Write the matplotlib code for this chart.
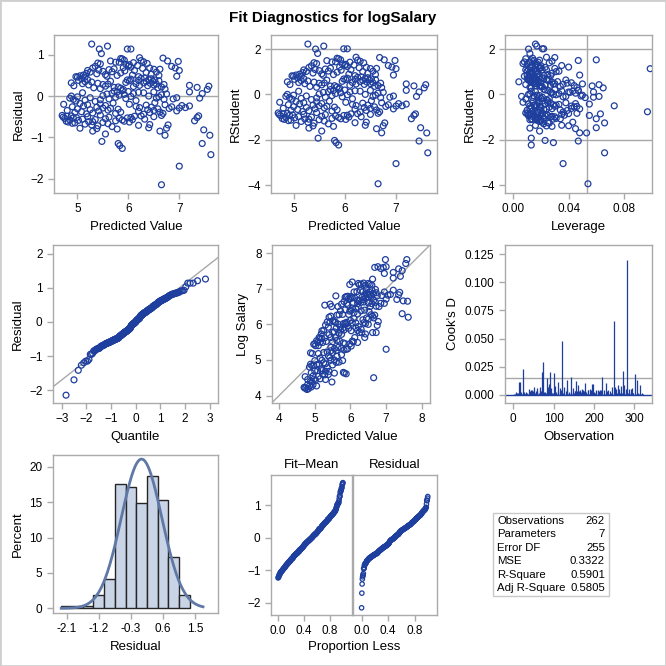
"""
Fit diagnostics panel for the logSalary regression: residual and RStudent
plots, leverage, Q-Q plot, observed vs predicted, Cook's D, residual
histogram, residual-fit spread plot and a small table of fit statistics.
"""

from statistics import NormalDist

import numpy as np
import matplotlib
matplotlib.use("Agg")
from matplotlib import pyplot as plt
from matplotlib.patches import Rectangle

# ---- values ----
# predicted value of each observation (grouped by residual band)
pred = [
    5.28, 5.59, 5.43, 5.98, 6.05,
    5.47, 6.68, 6.77, 6.98, 6.22, 6.25, 6.30, 5.85, 5.88, 5.92,
    5.65, 5.75, 5.95, 5.40, 5.45, 6.37, 6.10, 5.82, 6.02,
    4.97, 5.00, 5.05, 5.12, 5.18, 5.20, 5.25, 5.30, 5.35, 5.38,
    5.42, 5.50, 5.55, 5.58, 5.62, 5.68, 5.72, 5.78, 5.85, 5.90,
    5.93, 6.00, 6.05, 6.12, 6.18, 6.20, 6.28, 6.35, 6.42, 6.45,
    6.50, 6.55, 6.60, 6.85, 6.92, 6.95, 7.00, 6.62, 5.15, 6.08,
    4.88, 4.93, 5.02, 5.08, 5.10, 5.15, 5.20, 5.22, 5.28, 5.32,
    5.40, 5.45, 5.50, 5.55, 5.60, 5.65, 5.72, 5.80, 5.85, 5.90,
    5.95, 5.98, 6.02, 6.05, 6.10, 6.15, 6.20, 6.22, 6.25, 6.30,
    6.32, 6.35, 6.38, 6.40, 6.43, 6.45, 6.48, 6.50, 6.52, 6.55,
    6.58, 6.60, 6.65, 6.70, 6.72, 7.20, 7.35, 7.55, 7.58,
    4.85, 4.88, 4.92, 4.97, 5.00, 5.10, 5.15, 5.25, 5.35, 5.45,
    5.50, 5.58, 5.62, 5.68, 5.72, 5.75, 5.78, 5.82, 5.88, 5.92,
    5.95, 6.00, 6.05, 6.10, 6.15, 6.20, 6.30, 6.40, 6.50, 6.55,
    6.60, 6.65, 6.70, 6.88, 6.95, 7.20, 7.40, 7.45, 6.75,
    4.73, 4.80, 4.90, 4.95, 5.00, 5.05, 5.08, 5.12, 5.18, 5.20,
    5.25, 5.30, 5.38, 5.42, 5.45, 5.50, 5.55, 5.60, 5.65, 5.70,
    5.75, 5.80, 5.85, 6.15, 6.20, 6.22, 6.30, 6.35, 6.38, 6.42,
    6.45, 6.50, 6.52, 6.58, 6.62, 6.72, 6.80, 6.85, 7.00, 7.05,
    7.12, 7.20, 6.68, 6.95, 6.02,
    4.70, 4.72, 4.75, 4.78, 4.80, 4.82, 4.85, 4.88, 4.90, 4.92,
    4.95, 4.98, 5.02, 5.10, 5.15, 5.20, 5.22, 5.28, 5.35, 5.40,
    5.45, 5.50, 5.55, 5.60, 5.62, 5.75, 5.82, 5.88, 5.92, 5.98,
    6.02, 6.05, 6.08, 6.12, 6.25, 6.32, 6.42, 6.50, 6.65, 6.78,
    7.30, 7.38, 7.35, 5.30, 5.68, 6.20,
    5.05, 5.30, 5.38, 5.55, 5.78, 6.40, 6.62, 6.72, 6.75, 7.48, 7.60,
    5.48, 5.80, 5.83, 5.88, 7.45,
    7.62, 7.00, 6.65,
]

# raw residual of each observation
resid = [
    1.26, 1.21, 1.14, 1.14, 1.14,
    1.03, 0.92, 0.85, 0.84, 0.93, 0.86, 0.83, 0.91, 0.90, 0.87,
    0.85, 0.82, 0.77, 0.80, 0.78, 0.79, 0.81, 0.82, 0.76,
    0.47, 0.46, 0.49, 0.51, 0.55, 0.62, 0.58, 0.68, 0.72, 0.54,
    0.63, 0.60, 0.52, 0.48, 0.64, 0.59, 0.66, 0.50, 0.56, 0.69,
    0.61, 0.73, 0.70, 0.62, 0.74, 0.47, 0.67, 0.57, 0.68, 0.53,
    0.65, 0.58, 0.50, 0.72, 0.68, 0.48, 0.62, 0.65, 0.46, 0.51,
    0.32, 0.25, 0.38, 0.42, 0.30, 0.35, 0.40, 0.27, 0.34, 0.20,
    0.31, 0.18, 0.28, 0.24, 0.29, 0.36, 0.21, 0.22, 0.19, 0.16,
    0.33, 0.39, 0.37, 0.41, 0.23, 0.30, 0.38, 0.26, 0.43, 0.32,
    0.44, 0.35, 0.25, 0.40, 0.31, 0.42, 0.36, 0.27, 0.39, 0.29,
    0.20, 0.37, 0.22, 0.28, 0.17, 0.26, 0.21, 0.16, 0.24,
    -0.05, 0.00, -0.08, -0.12, -0.02, 0.08, -0.10, -0.04, -0.13, -0.09,
    0.01, 0.05, -0.07, 0.07, 0.12, -0.03, 0.10, 0.02, 0.13, 0.04,
    -0.06, 0.11, -0.01, 0.06, -0.11, 0.09, 0.08, 0.00, 0.10, -0.05,
    -0.02, 0.03, -0.08, -0.07, -0.04, 0.10, -0.05, 0.06, 0.05,
    -0.20, -0.35, -0.26, -0.40, -0.31, -0.18, -0.38, -0.24, -0.43, -0.21,
    -0.33, -0.41, -0.27, -0.36, -0.19, -0.29, -0.23, -0.34, -0.30, -0.17,
    -0.42, -0.32, -0.39, -0.25, -0.37, -0.28, -0.44, -0.22, -0.33, -0.40,
    -0.27, -0.35, -0.16, -0.31, -0.39, -0.21, -0.30, -0.26, -0.29, -0.23,
    -0.28, -0.24, -0.42, -0.36, -0.20,
    -0.47, -0.51, -0.54, -0.61, -0.49, -0.63, -0.58, -0.48, -0.66, -0.53,
    -0.65, -0.52, -0.59, -0.56, -0.68, -0.50, -0.62, -0.70, -0.57, -0.72,
    -0.46, -0.64, -0.55, -0.67, -0.51, -0.60, -0.54, -0.58, -0.61, -0.53,
    -0.63, -0.52, -0.57, -0.49, -0.48, -0.56, -0.69, -0.50, -0.47, -0.70,
    -0.60, -0.48, -0.52, -0.62, -0.74, -0.71,
    -0.78, -0.85, -0.79, -0.92, -0.80, -0.77, -0.85, -0.95, -0.78, -0.82, -0.95,
    -1.10, -1.15, -1.20, -1.27, -1.15,
    -1.42, -1.70, -2.15,
]

# leverage (hat diagonal) of each observation
lev = [
    .016, .017, .011, .022, .021,
    .012, .030, .060, .047, .024, .019, .028, .014, .009, .013,
    .015, .008, .017, .011, .007, .026, .018, .012, .010,
    .012, .015, .010, .018, .013, .009, .016, .012, .020, .014,
    .011, .017, .013, .022, .015, .010, .019, .014, .012, .016,
    .021, .013, .018, .024, .016, .027, .020, .031, .023, .028,
    .019, .033, .025, .035, .040, .048, .099, .030, .008, .017,
    .004, .009, .014, .011, .018, .012, .010, .016, .013, .020,
    .015, .012, .017, .023, .014, .011, .019, .016, .021, .013,
    .018, .015, .024, .012, .027, .020, .017, .029, .014, .032,
    .019, .025, .036, .016, .028, .021, .038, .030, .022, .042,
    .034, .026, .044, .039, .046, .050, .057, .065, .062,
    .006, .011, .014, .009, .017, .013, .020, .015, .024, .018,
    .012, .027, .021, .016, .030, .019, .025, .033, .022, .028,
    .036, .023, .031, .040, .026, .035, .043, .029, .047, .038,
    .050, .045, .052, .058, .049, .047, .062, .058, .041,
    .007, .012, .016, .010, .019, .014, .022, .011, .017, .025,
    .013, .020, .015, .028, .018, .012, .023, .016, .030, .021,
    .014, .026, .019, .033, .024, .017, .036, .027, .020, .039,
    .031, .042, .025, .044, .034, .038, .046, .029, .042, .045,
    .073, .055, .097, .048, .019,
    .009, .013, .011, .016, .010, .014, .018, .012, .020, .015,
    .017, .011, .022, .014, .019, .024, .013, .021, .016, .026,
    .018, .012, .028, .020, .015, .031, .023, .017, .034, .025,
    .019, .037, .027, .021, .040, .030, .043, .035, .046, .066,
    .060, .063, .055, .029, .022, .025,
    .016, .012, .024, .019, .028, .035, .045, .048, .040, .060, .053,
    .013, .023, .029, .013, .047,
    .066, .036, .054,
]

# observation number of each point (x of the Cook's D needles)
obs = [
    17, 179, 58, 307, 155,
    38, 14, 272, 142, 88, 117, 161, 190, 205, 236,
    251, 6, 47, 79, 97, 126, 171, 213, 292,
    3, 11, 19, 27, 35, 43, 51, 59, 67, 75,
    84, 93, 99, 107, 115, 124, 131, 139, 147, 153,
    163, 169, 177, 186, 193, 201, 209, 217, 225, 233,
    241, 255, 263, 267, 275, 287, 92, 295, 311, 319,
    2, 8, 15, 22, 29, 33, 40, 45, 53, 61,
    66, 72, 78, 86, 95, 103, 109, 113, 119, 128,
    136, 145, 150, 158, 166, 174, 182, 188, 196, 203,
    211, 221, 227, 234, 239, 245, 253, 258, 265, 269,
    277, 285, 290, 297, 305, 310, 316, 321, 298,
    4, 10, 21, 31, 39, 48, 56, 64, 73, 81,
    90, 98, 106, 114, 123, 129, 137, 146, 152, 160,
    168, 175, 184, 191, 199, 207, 215, 223, 231, 240,
    247, 257, 262, 271, 279, 288, 296, 304, 317,
    5, 12, 18, 24, 30, 36, 42, 49, 55, 62,
    68, 77, 82, 89, 96, 102, 108, 116, 121, 127,
    134, 140, 148, 156, 162, 170, 176, 183, 189, 197,
    204, 212, 220, 226, 232, 238, 243, 250, 256, 264,
    274, 281, 260, 293, 300,
    1, 7, 9, 20, 23, 26, 32, 37, 41, 46,
    50, 54, 57, 63, 69, 76, 80, 85, 91, 94,
    100, 105, 110, 118, 125, 132, 138, 144, 149, 154,
    159, 165, 172, 180, 185, 192, 198, 206, 214, 219,
    230, 244, 252, 261, 280, 291,
    44, 60, 65, 87, 104, 195, 83, 70, 111, 101, 25,
    52, 133, 303, 314, 74,
    249, 122, 283,
]

stat_names = ['Observations', 'Parameters', 'Error DF', 'MSE', 'R-Square', 'Adj R-Square']
stat_values = ['262', '7', '255', '0.3322', '0.5901', '0.5805']

n_parm = 7
mse = 0.3322

FIG_PX = 666
MARK = '#1F3F9E'
REFLINE = '#A8A8A8'
FRAME = '#AAAAAA'
HIST_FILL = '#C9D4E6'
CURVE = '#5F78A6'

plt.rcParams['font.family'] = ['Liberation Sans', 'DejaVu Sans']


def axesPx(fig, left, top, right, bottom):
    """Add an axes given its frame in pixel coordinates (origin top-left)."""
    return fig.add_axes([left / FIG_PX, 1 - bottom / FIG_PX,
                         (right - left) / FIG_PX, (bottom - top) / FIG_PX])


def style(ax):
    for s in ax.spines.values():
        s.set_color(FRAME)
        s.set_linewidth(1)
    ax.tick_params(colors=FRAME, labelcolor='black', labelsize=8.5, length=4, width=1)


def circles(ax, x, y, size=18):
    ax.scatter(x, y, s=size, facecolors='none', edgecolors=MARK, linewidths=0.9, zorder=3)


def main():
    p = np.array(pred)
    r = np.array(resid)
    h = np.array(lev)
    o = np.array(obs)
    n = len(p)

    # studentized residuals and Cook's D from residual and leverage
    r_int = r / np.sqrt(mse * (1 - h))
    rstudent = r_int * np.sqrt((n - n_parm - 1) / (n - n_parm - r_int ** 2))
    cooksd = r_int ** 2 * h / (n_parm * (1 - h))
    observed = p + r

    fig = plt.figure(figsize=(6.66, 6.66), dpi=100)
    fig.patches.append(Rectangle((0, 0), 1, 1, transform=fig.transFigure,
                                 fill=False, edgecolor='#CFCFCF', linewidth=2))
    fig.text(0.5, 1 - 18 / FIG_PX, 'Fit Diagnostics for logSalary',
             ha='center', va='center', fontsize=11, fontweight='bold')

    lab = dict(fontsize=9.5)

    # residual by predicted
    ax = axesPx(fig, 54, 35, 218, 193)
    style(ax)
    ax.axhline(0, color=REFLINE, lw=1, zorder=1)
    circles(ax, p, r)
    ax.set_xlim(4.54, 7.76)
    ax.set_ylim(-2.35, 1.48)
    ax.set_xticks([5, 6, 7])
    ax.set_yticks([-2, -1, 0, 1])
    ax.set_xlabel('Predicted Value', **lab)
    ax.set_ylabel('Residual', **lab)

    # rstudent by predicted
    ax = axesPx(fig, 271, 35, 437, 193)
    style(ax)
    for yv in (-2, 2):
        ax.axhline(yv, color=REFLINE, lw=1, zorder=1)
    circles(ax, p, rstudent)
    ax.set_xlim(4.56, 7.8)
    ax.set_ylim(-4.35, 2.62)
    ax.set_xticks([5, 6, 7])
    ax.set_yticks([-4, -2, 0, 2])
    ax.set_xlabel('Predicted Value', **lab)
    ax.set_ylabel('RStudent', **lab)

    # rstudent by leverage
    ax = axesPx(fig, 505, 35, 652, 193)
    style(ax)
    for yv in (-2, 2):
        ax.axhline(yv, color=REFLINE, lw=1, zorder=1)
    ax.axvline(2 * n_parm / n, color=REFLINE, lw=1, zorder=1)
    circles(ax, h, rstudent)
    ax.set_xlim(-0.006, 0.1003)
    ax.set_ylim(-4.35, 2.62)
    ax.set_xticks([0, 0.04, 0.08])
    ax.set_xticklabels(['0.00', '0.04', '0.08'])
    ax.set_yticks([-4, -2, 0, 2])
    ax.set_xlabel('Leverage', **lab)
    ax.set_ylabel('RStudent', **lab)

    # normal quantile plot of residuals
    ax = axesPx(fig, 53, 245, 218, 403)
    style(ax)
    nd = NormalDist()
    quant = [nd.inv_cdf((i + 1 - 0.375) / (n + 0.25)) for i in range(n)]
    ax.axline((0, r.mean()), slope=r.std(ddof=1), color=REFLINE, lw=1, zorder=1)
    circles(ax, quant, np.sort(r))
    ax.set_xlim(-3.35, 3.33)
    ax.set_ylim(-2.38, 2.26)
    ax.set_xticks([-3, -2, -1, 0, 1, 2, 3])
    ax.set_yticks([-2, -1, 0, 1, 2])
    ax.set_xlabel('Quantile', **lab)
    ax.set_ylabel('Residual', **lab)

    # observed by predicted
    ax = axesPx(fig, 272, 245, 430, 403)
    style(ax)
    ax.axline((4, 4), slope=1, color=REFLINE, lw=1, zorder=1)
    circles(ax, p, observed)
    ax.set_xlim(3.8, 8.23)
    ax.set_ylim(3.79, 8.23)
    ax.set_xticks([4, 5, 6, 7, 8])
    ax.set_yticks([4, 5, 6, 7, 8])
    ax.set_xlabel('Predicted Value', **lab)
    ax.set_ylabel('Log Salary', **lab)

    # Cook's D by observation
    ax = axesPx(fig, 505, 245, 652, 403)
    style(ax)
    ax.axhline(4 / n, color=REFLINE, lw=1, zorder=1)
    ax.axhline(0, color=MARK, lw=1, zorder=2)
    ax.vlines(o, 0, cooksd, color=MARK, lw=0.9, zorder=3)
    ax.set_xlim(-20.6, 344)
    ax.set_ylim(-0.0071, 0.133)
    ax.set_xticks([0, 100, 200, 300])
    ax.set_yticks([0, 0.025, 0.05, 0.075, 0.1, 0.125])
    ax.set_yticklabels(['0.000', '0.025', '0.050', '0.075', '0.100', '0.125'])
    ax.set_xlabel('Observation', **lab)
    ax.set_ylabel("Cook's D", **lab)

    # residual histogram with normal curve
    ax = axesPx(fig, 53, 455, 218, 613)
    style(ax)
    edges = np.round(np.arange(-2.25, 1.36, 0.3), 2)
    ax.hist(r, bins=edges, weights=np.full(n, 100 / n), color=HIST_FILL,
            edgecolor='#262626', linewidth=1, zorder=2)
    xs = np.linspace(-2.25, 1.72, 200)
    mu, sd = r.mean(), r.std(ddof=1)
    ax.plot(xs, 100 * 0.3 * np.exp(-0.5 * ((xs - mu) / sd) ** 2) / (sd * np.sqrt(2 * np.pi)),
            color=CURVE, lw=2, zorder=3)
    ax.set_xlim(-2.48, 2.14)
    ax.set_ylim(-0.66, 21.65)
    ax.set_xticks([-2.1, -1.2, -0.3, 0.6, 1.5])
    ax.set_xticklabels(['-2.1', '-1.2', '-0.3', '0.6', '1.5'])
    ax.set_yticks([0, 5, 10, 15, 20])
    ax.set_xlabel('Residual', **lab)
    ax.set_ylabel('Percent', **lab)

    # residual-fit spread plot
    prop = np.linspace(0, 1, n)
    axl = axesPx(fig, 271, 475, 352, 615)
    axr = axesPx(fig, 353, 475, 437, 615)
    for a, vals, title, xl in ((axl, p - p.mean(), 'Fit\u2013Mean', (-0.11, 1.14)),
                               (axr, r, 'Residual', (-0.13, 1.14))):
        style(a)
        circles(a, prop, np.sort(vals), size=10)
        a.set_xlim(*xl)
        a.set_ylim(-2.37, 1.92)
        a.set_xticks([0, 0.4, 0.8])
        a.set_xticklabels(['0.0', '0.4', '0.8'])
        a.set_title(title, fontsize=9.5, pad=5)
    axl.set_yticks([-2, -1, 0, 1])
    axr.set_yticks([])
    fig.text(354 / FIG_PX, 1 - 647 / FIG_PX, 'Proportion Less', ha='center', va='center', fontsize=9.5)

    # fit statistics table
    fig.patches.append(Rectangle((493 / FIG_PX, 1 - 596 / FIG_PX), 116 / FIG_PX, 83 / FIG_PX,
                                 transform=fig.transFigure, fill=False,
                                 edgecolor='#C8C8C8', linewidth=1))
    for i, (name, val) in enumerate(zip(stat_names, stat_values)):
        yy = 1 - (521 + i * 13.4) / FIG_PX
        fig.text(497 / FIG_PX, yy, name, ha='left', va='center', fontsize=8.2)
        fig.text(605 / FIG_PX, yy, val, ha='right', va='center', fontsize=8.2)

    fig.savefig('out.png', dpi=100)


if __name__ == '__main__':
    main()
